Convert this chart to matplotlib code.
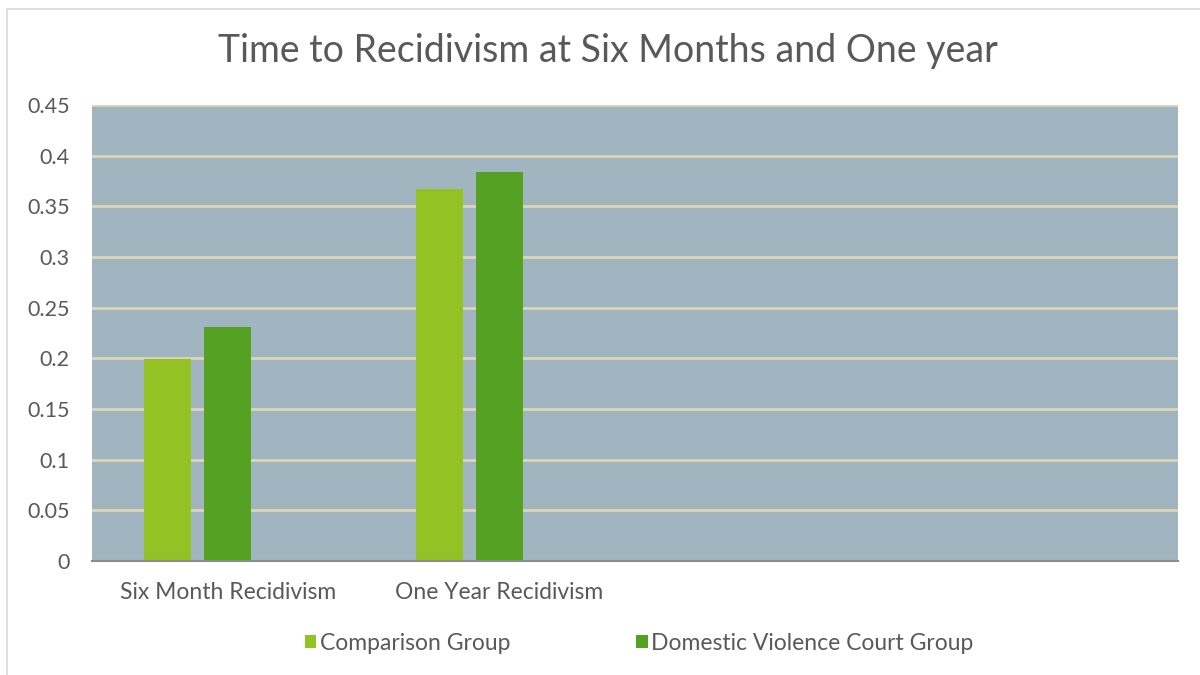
import matplotlib
matplotlib.use("Agg")
import numpy as np
import matplotlib.pyplot as plt
from matplotlib.patches import Rectangle

# data
categories = ["Six Month Recidivism", "One Year Recidivism", "", ""]
comparison = [0.199, 0.3675, np.nan, np.nan]
dv_court = [0.2305, 0.3835, np.nan, np.nan]
series_names = ["Comparison Group", "Domestic Violence Court Group"]
yticks = [0, 0.05, 0.1, 0.15, 0.2, 0.25, 0.3, 0.35, 0.4, 0.45]
ytick_labels = ["0", "0.05", "0.1", "0.15", "0.2", "0.25", "0.3", "0.35", "0.4", "0.45"]

plt.rcParams['font.family'] = ['Lato', 'DejaVu Sans']
text_col = "#595959"

fig = plt.figure(figsize=(12, 6.75), dpi=100)
ax = fig.add_axes([92 / 1200, 114 / 675, 1086 / 1200, 456 / 675])
ax.set_facecolor("#A0B5C0")

x = np.arange(len(categories))
w = 0.173
step = 0.221
ax.bar(x - step, comparison, w, color="#93C225", label=series_names[0], zorder=3)
ax.bar(x, dv_court, w, color="#55A122", label=series_names[1], zorder=3)

ax.set_xlim(-0.5, len(categories) - 0.5)
ax.set_ylim(0, 0.45)
ax.set_yticks(yticks)
ax.set_yticklabels(ytick_labels, fontsize=15.5, color=text_col)
ax.set_xticks(x)
ax.set_xticklabels(categories, fontsize=16.5, color=text_col)
ax.tick_params(axis='y', length=0, pad=16)
ax.tick_params(axis='x', length=0, pad=15)
ax.yaxis.grid(True, color="#DDD5B8", lw=2, zorder=1)
for s in ["left", "right", "top"]:
    ax.spines[s].set_visible(False)
ax.spines["bottom"].set_color("#8C8C8C")
ax.spines["bottom"].set_linewidth(1.5)
ax.spines["bottom"].set_zorder(4)

fig.text(0.507, 0.925, "Time to Recidivism at Six Months and One year",
         ha='center', va='center', fontsize=27, color=text_col)

leg = fig.legend(loc='center', bbox_to_anchor=(0.5325, 0.047), ncol=2, frameon=False,
                 fontsize=16.5, handlelength=0.5, handleheight=0.5, handletextpad=0.15,
                 columnspacing=5.5)
for t in leg.get_texts():
    t.set_color(text_col)

# outer chart border
fig.patches.append(Rectangle((7 / 1200, -0.01), 1.0, 1 - 9 / 675 + 0.01,
                             transform=fig.transFigure, fill=False,
                             edgecolor="#D9D9D9", lw=1.2))

plt.savefig("out.png", dpi=100)
